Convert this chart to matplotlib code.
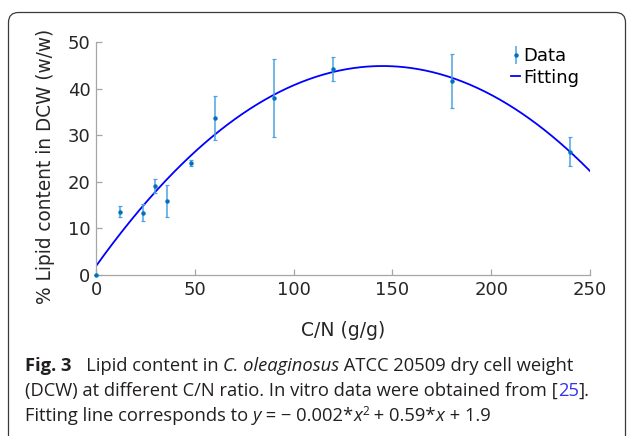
import numpy as np
import matplotlib
matplotlib.use("Agg")
import matplotlib.pyplot as plt
from matplotlib.patches import FancyBboxPatch
from matplotlib.lines import Line2D
from matplotlib.transforms import IdentityTransform

# ---- data ----
cn_ratio = [0, 12, 24, 30, 36, 48, 60, 90, 120, 180, 240]
lipid = [0.0, 13.6, 13.4, 19.1, 15.9, 24.0, 33.7, 38.0, 44.2, 41.6, 26.5]
lipid_err = [0.0, 1.1, 1.9, 1.4, 3.4, 0.7, 4.7, 8.3, 2.6, 5.8, 3.2]
fit_coeffs = [-0.002043, 0.5924, 1.9]
x_ticks = [0, 50, 100, 150, 200, 250]
y_ticks = [0, 10, 20, 30, 40, 50]

W, H = 627, 436
fig = plt.figure(figsize=(W / 100, H / 100), dpi=100)
fig.patch.set_facecolor("white")

# axes
ax = fig.add_axes([96 / W, 1 - 275 / H, (590 - 96) / W, (275 - 42) / H])
xf = np.linspace(0, 250, 400)
ax.plot(xf, np.polyval(fit_coeffs, xf), color="#0000ff", lw=1.3, zorder=2)
ax.errorbar(cn_ratio, lipid, yerr=lipid_err, fmt="o", ms=2.2,
            color="#0072bd", ecolor="#4da3e0", elinewidth=1.1,
            capsize=1.6, capthick=0.9, zorder=3, clip_on=False)
ax.set_xlim(0, 250)
ax.set_ylim(0, 50)
ax.set_xticks(x_ticks)
ax.set_yticks(y_ticks)
for s in ["top", "right"]:
    ax.spines[s].set_visible(False)
for s in ["left", "bottom"]:
    ax.spines[s].set_color("#a6a6a6")
    ax.spines[s].set_linewidth(0.9)
ax.tick_params(direction="in", length=4, width=0.9, color="#a6a6a6",
               labelsize=13, labelcolor="#262626", pad=4)
ax.set_xlabel("C/N (g/g)", fontsize=13.5, color="#262626", labelpad=16)
ax.set_ylabel("% Lipid content in DCW (w/w)", fontsize=13.35, color="#262626", labelpad=9)
ax.yaxis.label.set_y(0.466)

data_handle = ax.errorbar([], [], yerr=[], fmt="o", ms=2.2, color="#0072bd",
                          ecolor="#4da3e0", elinewidth=1.1, capsize=1.6)
fit_handle = Line2D([], [], color="#0000ff", lw=1.3)
leg = ax.legend([data_handle, fit_handle], ["Data", "Fitting"],
                loc="upper right", bbox_to_anchor=(1.0, 1.025), frameon=False,
                fontsize=13, handlelength=0.5, handletextpad=0.15,
                labelspacing=0.2, borderaxespad=0.2)

# border
box = FancyBboxPatch((8.5, -30), 617, 424 + 30 - 0.5,
                     boxstyle="round,pad=0,rounding_size=10",
                     transform=IdentityTransform(), facecolor="none",
                     edgecolor="#3a3a3a", lw=0.9, figure=fig)
fig.patches.append(box)

# caption
renderer = fig.canvas.get_renderer()
cap_fs = 13.2
cap_col = "#231f20"
fam = ["Open Sans", "DejaVu Sans"]


def draw_line(pieces, x0, y_base):
    x = x0
    for txt, kw in pieces:
        k = dict(fontsize=cap_fs, color=cap_col, family=fam)
        k.update(kw)
        dy = k.pop("dy", 0)
        t = fig.text(x / W, (H - y_base + dy) / H, txt, ha="left", va="baseline", **k)
        bb = t.get_window_extent(renderer)
        x = bb.x1


draw_line([("Fig. 3", dict(weight="bold")),
           ("   Lipid content in ", {}),
           ("C. oleaginosus", dict(style="italic")),
           (" ATCC 20509 dry cell weight", {})], 25, 371)
draw_line([("(DCW) at different C/N ratio. In vitro data were obtained from [", {}),
           ("25", dict(color="#3333ee")),
           ("].", {})], 25, 396)
draw_line([("Fitting line corresponds to ", {}),
           ("y", dict(style="italic")),
           (" = \u2212 0.002*", {}),
           ("x", dict(style="italic")),
           ("2", dict(fontsize=8.5, dy=6)),
           (" + 0.59*", {}),
           ("x", dict(style="italic")),
           (" + 1.9", {})], 25, 421)

fig.savefig("out.png", dpi=100)
